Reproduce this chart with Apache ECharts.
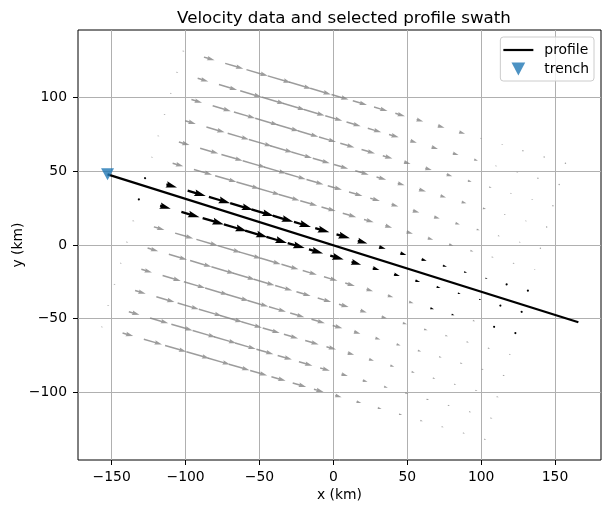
<!DOCTYPE html>
<html>
<head>
<meta charset="utf-8">
<title>Velocity data and selected profile swath</title>
<script src="https://cdn.jsdelivr.net/npm/echarts@6/dist/echarts.min.js"></script>
<style>
  html, body { margin: 0; padding: 0; background: #fff; }
  #chart { width: 611px; height: 511px; }
</style>
</head>
<body>
<div id="chart"></div>
<script>
// velocity grid nodes, km along / across the grid axes (15 km spacing)
const alongKm = [-135, -120, -105, -90, -75, -60, -45, -30, -15, 0, 15, 30, 45, 60, 75, 90, 105, 120, 135];
const acrossKm = [97.5, 82.5, 67.5, 52.5, 37.5, 22.5, 7.5, -7.5, -22.5, -37.5, -52.5, -67.5, -82.5, -97.5];
const gridRotDeg = 16.4; // grid turned clockwise from east

// arrow length on the map (km), rows top -> bottom
const arrowLen = [
  [1.3, 7.5, 12.8, 15.0, 16.3, 15.8, 14.5, 12.0, 10.0, 9.5, 6.8, 4.7, 4.7, 4.2, 1.2, 1.1, 1.0, 0.9, 0.8],
  [1.3, 7.5, 12.8, 15.0, 16.3, 15.8, 14.5, 12.0, 10.0, 9.5, 6.8, 4.6, 4.5, 4.0, 2.7, 1.3, 1.1, 1.0, 0.9],
  [1.3, 7.5, 12.8, 15.0, 16.3, 15.8, 14.5, 12.0, 10.0, 9.5, 6.8, 4.6, 4.5, 4.0, 2.7, 1.8, 1.2, 1.1, 0.9],
  [1.3, 7.5, 12.8, 15.0, 16.3, 15.8, 14.5, 12.0, 10.0, 9.5, 6.8, 4.8, 4.9, 4.0, 3.4, 2.2, 1.3, 1.1, 1.0],
  [1.3, 7.5, 12.8, 15.0, 16.3, 15.8, 14.5, 12.0, 10.0, 9.5, 6.8, 4.8, 4.6, 4.0, 3.2, 2.2, 1.4, 1.2, 1.0],
  [1.3, 7.5, 12.8, 15.0, 16.3, 15.8, 14.5, 12.0, 10.0, 9.5, 6.8, 4.8, 4.5, 3.8, 3.0, 2.2, 1.5, 1.3, 1.1],
  [1.3, 7.5, 12.8, 15.0, 16.3, 15.8, 14.5, 12.0, 10.0, 9.5, 6.8, 4.7, 4.3, 3.6, 2.9, 2.1, 1.6, 1.4, 1.2],
  [1.3, 7.5, 12.8, 15.0, 16.3, 15.8, 14.5, 12.0, 10.0, 9.5, 6.8, 4.7, 4.1, 3.4, 2.8, 2.0, 1.6, 1.4, 1.3],
  [1.3, 7.5, 12.8, 15.0, 16.3, 15.8, 14.5, 12.0, 10.0, 9.5, 6.8, 4.6, 3.9, 3.2, 2.6, 2.0, 1.6, 1.5, 1.4],
  [1.3, 7.5, 12.8, 15.0, 16.3, 15.8, 14.5, 12.0, 10.0, 9.5, 6.8, 4.6, 3.8, 3.0, 2.5, 1.9, 1.6, 1.5, 1.4],
  [1.3, 7.5, 12.8, 15.0, 16.3, 15.8, 14.5, 12.0, 10.0, 9.5, 6.8, 4.5, 3.6, 2.9, 2.4, 1.9, 1.6, 1.5, 1.5],
  [1.3, 7.5, 12.8, 15.0, 16.3, 15.8, 14.5, 12.0, 10.0, 9.5, 6.8, 4.5, 3.5, 2.8, 2.3, 1.8, 1.5, 1.5, 1.5],
  [1.3, 7.5, 12.8, 15.0, 16.3, 15.8, 14.5, 12.0, 10.0, 9.5, 6.8, 4.5, 3.4, 2.7, 2.2, 1.8, 1.5, 1.5, 1.5],
  [1.3, 7.5, 12.8, 15.0, 16.3, 15.8, 14.5, 12.0, 10.0, 9.5, 6.8, 4.5, 3.4, 2.7, 2.2, 1.8, 1.5, 1.5, 1.5]
];

// nodes picked into the profile swath ('#')
const swathMask = [
  '...................',
  '...................',
  '...................',
  '...................',
  '...................',
  '...................',
  '###################',
  '###################',
  '..............##.##',
  '...................',
  '...................',
  '...................',
  '...................',
  '...................'
];

const profileX = [-152.8, 165.8];
const profileY = [47.9, -52.4];
const trenchXY = [-152.8, 47.9];

const xTicks = [-150, -100, -50, 0, 50, 100, 150];
const yTicks = [-100, -50, 0, 50, 100];

const FONT = 'DejaVu Sans';
const minus = v => String(v).replace('-', '\u2212');

const th = gridRotDeg * Math.PI / 180;
const ax = Math.cos(th), ay = -Math.sin(th); // along axis
const nx = Math.sin(th), ny = Math.cos(th);  // across axis

const grayArrows = [];
const swathArrows = [];
acrossKm.forEach((n, r) => {
  alongKm.forEach((a, c) => {
    const len = arrowLen[r][c];
    const item = [a * ax + n * nx, a * ay + n * ny, len * ax, len * ay];
    if (swathMask[r][c] === '#') swathArrows.push(item);
    else grayArrows.push(item);
  });
});

// quiver-like arrow polygon (shaft width w px, head 3w wide, 5w long)
function arrowRenderer(w, color) {
  return function (params, api) {
    const p0 = api.coord([api.value(0), api.value(1)]);
    const p1 = api.coord([api.value(0) + api.value(2), api.value(1) + api.value(3)]);
    const dx = p1[0] - p0[0], dy = p1[1] - p0[1];
    const L = Math.hypot(dx, dy) / w;
    const ang = Math.atan2(dy, dx);
    let pts;
    if (L < 1) {
      pts = [];
      for (let k = 0; k < 6; k++) pts.push([0.5 * Math.cos(k * Math.PI / 3), 0.5 * Math.sin(k * Math.PI / 3)]);
    } else if (L < 5) {
      const s = L / 5;
      pts = [[0, 0.5], [0.5, 0.5], [0, 1.5], [5, 0], [0, -1.5], [0.5, -0.5], [0, -0.5]]
        .map(p => [p[0] * s, p[1] * s]);
    } else {
      pts = [[0, 0.5], [L - 4.5, 0.5], [L - 5, 1.5], [L, 0], [L - 5, -1.5], [L - 4.5, -0.5], [0, -0.5]];
    }
    const c = Math.cos(ang), s = Math.sin(ang);
    const points = pts.map(p => [p0[0] + w * (p[0] * c - p[1] * s), p0[1] + w * (p[0] * s + p[1] * c)]);
    return { type: 'polygon', shape: { points: points }, style: { fill: color } };
  };
}

const chart = echarts.init(document.getElementById('chart'));

chart.setOption({
  animation: false,
  backgroundColor: '#fff',
  title: {
    text: 'Velocity data and selected profile swath',
    left: 339, top: 5, textAlign: 'center',
    textStyle: { fontFamily: FONT, fontSize: 16.7, fontWeight: 'normal', color: '#000' }
  },
  legend: {
    orient: 'vertical', right: 17, top: 37,
    data: [
      { name: 'profile', icon: 'path://M0,0L30,0L30,2.2L0,2.2Z' },
      { name: 'trench', icon: 'path://M0,0L20,0L10,19Z' }
    ],
    itemWidth: 30, itemHeight: 13, itemGap: 5,
    padding: [6, 5, 5, 3],
    backgroundColor: 'rgba(255,255,255,0.8)',
    borderColor: '#cccccc', borderWidth: 1, borderRadius: 3,
    textStyle: { fontFamily: FONT, fontSize: 13.9, color: '#000', padding: [0, 0, 0, 6] }
  },
  grid: {
    left: 78, right: 10, top: 30, bottom: 51,
    outerBoundsMode: 'none',
    show: true, borderColor: '#000', borderWidth: 1
  },
  xAxis: {
    type: 'value', min: -172.8, max: 181.1,
    name: 'x (km)', nameLocation: 'middle', nameGap: 28, nameMoveOverlap: false,
    nameTextStyle: { fontFamily: FONT, fontSize: 13.9, color: '#000' },
    axisLine: { show: false, onZero: false },
    axisTick: { show: true, length: 5, lineStyle: { color: '#000' }, customValues: xTicks },
    axisLabel: { customValues: xTicks, margin: 10, formatter: minus, fontFamily: FONT, fontSize: 13.9, color: '#000' },
    splitLine: { show: true, lineStyle: { color: '#b0b0b0', width: 1 } }
  },
  yAxis: {
    type: 'value', min: -145.8, max: 145.8,
    name: 'y (km)', nameLocation: 'middle', nameGap: 53, nameMoveOverlap: false,
    nameTextStyle: { fontFamily: FONT, fontSize: 13.9, color: '#000' },
    axisLine: { show: false, onZero: false },
    axisTick: { show: true, length: 5, lineStyle: { color: '#000' }, customValues: yTicks },
    axisLabel: { customValues: yTicks, margin: 11, formatter: minus, fontFamily: FONT, fontSize: 13.9, color: '#000' },
    splitLine: { show: true, lineStyle: { color: '#b0b0b0', width: 1 } }
  },
  series: [
    {
      name: 'velocity', type: 'custom', z: 2,
      renderItem: arrowRenderer(1.5, 'rgba(128,128,128,0.78)'),
      encode: { x: 0, y: 1 },
      data: grayArrows
    },
    {
      name: 'swath', type: 'custom', z: 3,
      renderItem: arrowRenderer(2.3, '#000'),
      encode: { x: 0, y: 1 },
      data: swathArrows
    },
    {
      name: 'profile', type: 'line', z: 4,
      symbol: 'none',
      lineStyle: { color: '#000', width: 2.2 },
      itemStyle: { color: '#000' },
      data: profileX.map((x, i) => [x, profileY[i]])
    },
    {
      name: 'trench', type: 'scatter', z: 5,
      symbol: 'path://M0,0L20,0L10,19Z', symbolSize: [13, 12],
      itemStyle: { color: '#1f77b4' },
      data: [trenchXY]
    }
  ]
});
</script>
</body>
</html>
